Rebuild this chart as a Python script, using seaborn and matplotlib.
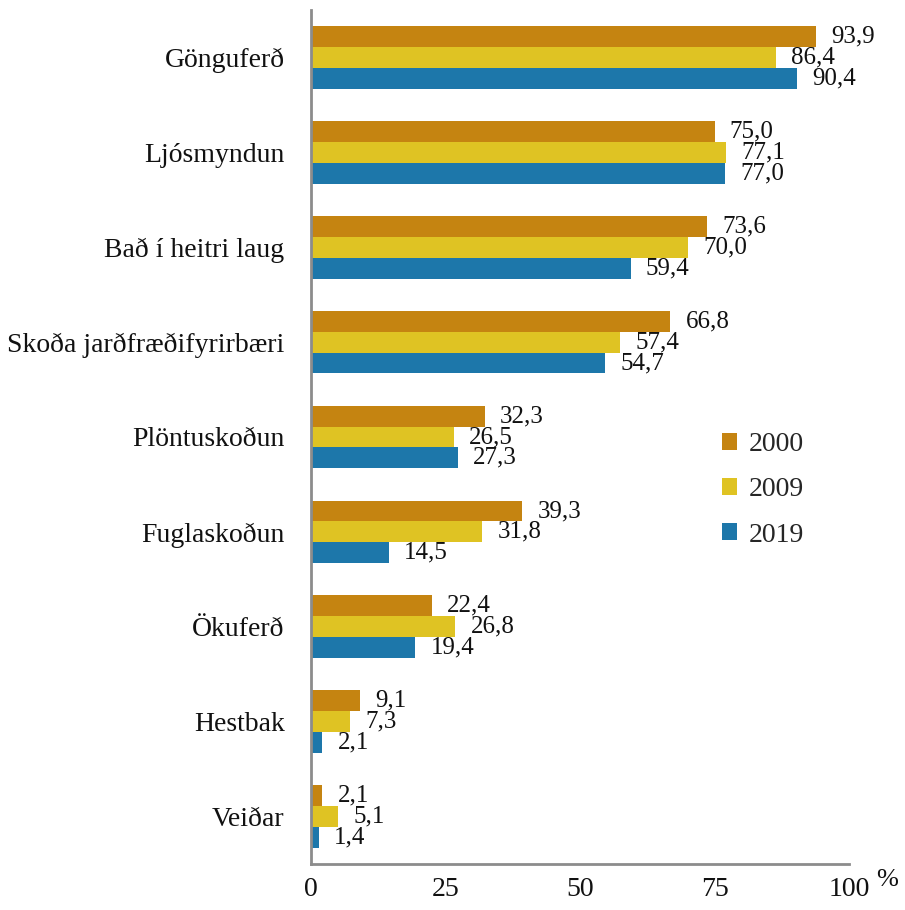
import pandas as pd
import matplotlib.pyplot as plt
import seaborn as sns

# Data (percent)
activities = ['Gönguferð', 'Ljósmyndun', 'Bað í heitri laug', 'Skoða jarðfræðifyrirbæri',
              'Plöntuskoðun', 'Fuglaskoðun', 'Ökuferð', 'Hestbak', 'Veiðar']
years = ['2000', '2009', '2019']
vals_2000 = [93.9, 75.0, 73.6, 66.8, 32.3, 39.3, 22.4, 9.1, 2.1]
vals_2009 = [86.4, 77.1, 70.0, 57.4, 26.5, 31.8, 26.8, 7.3, 5.1]
vals_2019 = [90.4, 77.0, 59.4, 54.7, 27.3, 14.5, 19.4, 2.1, 1.4]
x_ticks = [0, 25, 50, 75, 100]

colors = ['#C58411', '#DFC323', '#1D77AA']

df = pd.DataFrame({
    'activity': activities * 3,
    'year': [y for y in years for _ in activities],
    'value': vals_2000 + vals_2009 + vals_2019,
})

sns.set_theme(style='white')
plt.rcParams['font.family'] = ['Liberation Serif', 'DejaVu Serif']

fig = plt.figure(figsize=(9.05, 9.10), dpi=100)
ax = fig.add_axes([311 / 905, 1 - 864 / 910, (849 - 311) / 905, (864 - 10) / 910])

sns.barplot(data=df, x='value', y='activity', hue='year', order=activities,
            hue_order=years, palette=colors, orient='h', width=0.66,
            linewidth=0, saturation=1, ax=ax)

# value labels with comma decimal
for cont in ax.containers:
    labels = [f'{b.get_width():.1f}'.replace('.', ',') for b in cont]
    ax.bar_label(cont, labels=labels, padding=11, fontsize=18, color='#111111')

ax.set_xlim(0, 100)
ax.set_ylim(8.5, -0.5)
ax.set_xticks(x_ticks)
ax.set_xticklabels([str(t) for t in x_ticks])
ax.set_xlabel('')
ax.set_ylabel('')
ax.tick_params(axis='x', length=0, pad=9, labelsize=20, labelcolor='#111111')
ax.tick_params(axis='y', length=0, pad=19, labelsize=20, labelcolor='#111111')

for side in ['top', 'right']:
    ax.spines[side].set_visible(False)
for side in ['left', 'bottom']:
    ax.spines[side].set_color('#8C8C8C')
    ax.spines[side].set_linewidth(2)

fig.text(876 / 905, 1 - 880 / 910, '%', fontsize=19, color='#111111', ha='left', va='center')

leg = ax.legend(loc='upper left', bbox_to_anchor=(697 / 905, 1 - 407 / 910),
                bbox_transform=fig.transFigure, frameon=False, fontsize=20,
                handlelength=0.55, handleheight=0.55, handletextpad=0.4, labelspacing=0.73)

plt.savefig('out.png', dpi=100)
